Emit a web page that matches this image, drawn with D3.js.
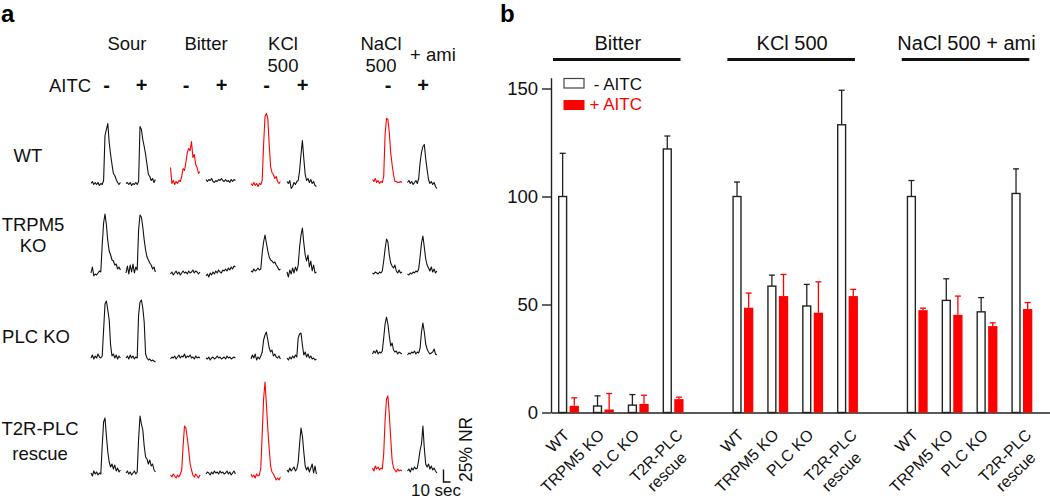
<!DOCTYPE html>
<html><head><meta charset="utf-8">
<script src="https://cdn.jsdelivr.net/npm/d3@7"></script>
<style>body{margin:0;background:#fff} svg{display:block}</style>
</head><body><svg id="c" width="1050" height="500"></svg>
<script>
// ---------------- DATA ----------------
// Panel a: nerve recording traces (% NR), sampled every 2 s
const traceStimuli = ["Sour", "Bitter", "KCl 500", "NaCl 500 + ami"];
const aitcStates = ["-", "+"];
const traceGenotypes = ["WT", "TRPM5 KO", "PLC KO", "T2R-PLC rescue"];
const traceTime = [0,2,4,6,8,10,12,14,16,18,20,22,24,26,28,30,32,34,36,38,40,42];
const tracesWT = [
  [2,6,0,4,0,4,-2,2,0,8,98,110,122,84,60,40,22,18,10,4,0,4],
  [2,4,0,4,-2,2,0,4,0,6,116,110,90,76,60,40,20,16,8,12,4,10],
  [34,2,8,0,6,2,8,6,16,32,28,44,64,72,68,86,54,60,40,34,22,26],
  [10,6,10,8,12,6,4,8,6,10,8,12,8,6,10,6,8,4,10,6,10,8],
  [2,-2,4,-2,2,-4,2,0,8,80,136,142,132,80,36,24,20,12,16,6,2,6],
  [6,2,8,-8,-4,4,0,6,8,28,60,88,52,20,8,12,4,10,2,6,-2,-4],
  [10,6,12,4,8,2,6,4,16,100,132,130,104,64,40,20,6,6,4,4,6,4],
  [4,8,2,6,0,4,8,2,12,44,64,76,80,52,30,10,2,6,0,4,-4,-8]
];
const tracesTRPM5 = [
  [4,16,-2,2,0,4,8,6,60,104,122,100,68,48,40,30,28,20,22,12,16,10],
  [4,18,2,20,6,22,4,16,10,90,120,116,96,70,50,36,30,24,20,12,16,6],
  [2,6,0,4,8,2,6,0,4,8,4,6,2,8,4,6,10,4,8,6,2,6],
  [-2,2,-4,4,0,6,2,8,4,10,6,4,10,8,12,8,14,10,16,12,18,16],
  [8,6,12,8,10,14,10,12,44,66,80,64,48,36,30,28,24,26,20,16,10,12],
  [6,-4,10,2,14,4,16,8,20,56,80,94,64,40,28,40,16,28,8,20,4,6],
  [4,2,6,4,2,6,4,8,28,52,72,66,40,24,18,14,20,8,4,10,4,6],
  [2,0,4,2,6,4,8,6,12,36,64,78,56,32,20,14,8,16,6,12,4,8]
];
const tracesPLC = [
  [4,10,2,8,4,12,6,4,8,60,112,118,100,80,30,8,12,4,10,2,8,4],
  [4,8,2,10,4,8,2,6,4,90,116,120,104,76,12,4,0,2,-2,0,-2,-4],
  [2,6,4,8,2,6,10,4,8,6,12,4,8,6,10,4,6,2,8,4,6,4],
  [4,2,6,0,4,6,2,4,8,4,6,2,4,6,2,8,4,6,2,4,6,4],
  [2,10,4,12,0,6,2,8,16,40,50,56,40,24,16,20,8,12,6,4,8,2],
  [4,0,6,2,8,4,10,6,44,52,54,30,10,16,6,12,4,8,2,4,0,2],
  [12,18,14,20,12,16,14,18,44,72,86,72,48,28,34,20,16,18,12,16,14,12],
  [10,14,12,16,14,18,12,16,14,24,56,74,56,32,22,16,12,14,16,22,12,10]
];
const tracesRescue = [
  [2,-4,6,0,4,-2,2,0,56,104,112,76,44,24,14,20,10,18,6,12,4,8],
  [2,6,0,4,-2,2,6,0,4,70,116,100,88,56,34,30,20,28,16,20,8,4],
  [-2,-6,0,-4,-8,-2,-6,0,8,56,96,92,72,48,20,8,-2,-6,0,-4,-8,-2],
  [0,4,2,-2,4,0,6,2,4,0,6,2,4,0,2,6,0,4,-2,2,6,0],
  [0,-6,-2,-8,0,-4,-2,12,80,150,184,140,90,50,16,4,0,-6,-12,-8,-12,-6],
  [8,4,12,6,10,14,6,10,24,60,92,76,44,16,8,14,4,12,20,2,16,0],
  [12,6,16,10,14,8,12,10,40,108,150,156,120,72,28,12,8,4,10,6,8,6],
  [6,10,4,12,8,14,10,12,28,48,60,96,52,20,14,20,10,16,8,12,6,2]
];
const redTraceRows = ["WT", "T2R-PLC rescue"];
const redTraceCols = [2, 4, 6];
const scaleBarNR = 25;   // % NR
const scaleBarSec = 10;  // sec

// Panel b: bar chart
const barGroups = ["Bitter", "KCl 500", "NaCl 500 + ami"];
const barGenotypes = ["WT", "TRPM5 KO", "PLC KO", "T2R-PLC rescue"];
const minusAITC    = [[100, 3, 3.4, 122], [100, 58.5, 49.3, 133.2], [100, 51.9, 46.6, 101.4]];
const minusAITCErr = [[20, 4.7, 4.9, 6], [6.7, 5.1, 10, 16], [7.4, 10, 6.6, 11.4]];
const plusAITC     = [[3.1, 1.4, 4, 6.2], [48.5, 53.9, 46.2, 53.9], [47.4, 45.2, 40, 47.9]];
const plusAITCErr  = [[3.7, 7.4, 4, 0.9], [6.8, 10, 14.3, 3.1], [0.9, 8.7, 1.5, 3]];
const yTicks = [0, 50, 100, 150];
const legendLabels = ["- AITC", "+ AITC"];

// ---------------- DRAW ----------------
const RED = "#ff0000", INK = "#111";
const svg = d3.select("#c").attr("font-family", "'Liberation Sans', Arial, Helvetica, sans-serif");

svg.append("text").attr("x", 1).attr("y", 22).attr("font-size", 24).attr("font-weight", "bold").text("a");
svg.append("text").attr("x", 500).attr("y", 22).attr("font-size", 24).attr("font-weight", "bold").text("b");

// ----- Panel a -----
const A_FS = 18.5;
const colX = [91, 126, 170.5, 206, 251, 287, 372.5, 407.5];
const rowBase = [184.5, 275, 360, 474];
const tx = d3.scaleLinear().domain([0, 42]).range([0, 29.4]);
const ty = d3.scaleLinear().domain([0, 100]).range([0, -50]);
const traceLine = d3.line().x((d, i) => tx(traceTime[i])).y(d => ty(d));
const allTraces = [tracesWT, tracesTRPM5, tracesPLC, tracesRescue];

allTraces.forEach((row, r) => row.forEach((vals, c) => {
  const red = redTraceRows.includes(traceGenotypes[r]) && redTraceCols.includes(c);
  svg.append("path")
    .attr("transform", `translate(${colX[c]},${rowBase[r]})`)
    .attr("d", traceLine(vals))
    .attr("fill", "none").attr("stroke", red ? RED : INK)
    .attr("stroke-width", 1.1).attr("stroke-linejoin", "round");
}));

// column headers
const hdr = svg.append("g").attr("font-size", A_FS).attr("fill", INK);
hdr.append("text").attr("x", 127).attr("y", 50).attr("text-anchor", "middle").text(traceStimuli[0]);
hdr.append("text").attr("x", 206).attr("y", 50).attr("text-anchor", "middle").text(traceStimuli[1]);
const kcl = traceStimuli[2].split(" ");
hdr.append("text").attr("x", 283).attr("y", 50).attr("text-anchor", "middle").text(kcl[0]);
hdr.append("text").attr("x", 283).attr("y", 71.5).attr("text-anchor", "middle").text(kcl[1]);
const nacl = traceStimuli[3].split(" ");
hdr.append("text").attr("x", 381).attr("y", 50).attr("text-anchor", "middle").text(nacl[0]);
hdr.append("text").attr("x", 381).attr("y", 71.5).attr("text-anchor", "middle").text(nacl[1]);
hdr.append("text").attr("x", 410).attr("y", 61).text(nacl.slice(2).join(" "));

hdr.append("text").attr("x", 49).attr("y", 92).text("AITC");
colX.forEach((x, c) => {
  hdr.append("text").attr("x", x + 15.5).attr("y", 92).attr("text-anchor", "middle")
    .attr("font-weight", "bold").attr("font-size", 20).text(aitcStates[c % 2]);
});

// row labels
const rowLabelLines = [["WT"], ["TRPM5", "KO"], ["PLC KO"], ["T2R-PLC", "rescue"]];
const rowLabelX = [28, 33, 36, 40];
const rowLabelY = [[161.7], [231, 252], [343], [435, 460]];
rowLabelLines.forEach((lines, r) => lines.forEach((t, k) => {
  hdr.append("text").attr("x", rowLabelX[r]).attr("y", rowLabelY[r][k]).attr("text-anchor", "middle").text(t);
}));

// scale bar
const sbX = 443.5, sbY = 482;
svg.append("path")
  .attr("d", `M${sbX},${sbY + ty(scaleBarNR)}V${sbY}H${sbX + tx(scaleBarSec)}`)
  .attr("fill", "none").attr("stroke", INK).attr("stroke-width", 1.4);
svg.append("text").attr("transform", `translate(472,${sbY}) rotate(-90)`)
  .attr("font-size", 17.5).attr("fill", INK).text(`${scaleBarNR}% NR`);
svg.append("text").attr("x", 436).attr("y", 496).attr("text-anchor", "middle")
  .attr("font-size", 17).attr("fill", INK).text(`${scaleBarSec} sec`);

// ----- Panel b -----
const y = d3.scaleLinear().domain([0, 155]).range([412.5, 77.7]);
const slotKeys = [];
barGroups.forEach((g, gi) => {
  barGenotypes.forEach(gt => slotKeys.push(g + "|" + gt));
  if (gi < barGroups.length - 1) slotKeys.push("gap" + gi);
});
const x0 = d3.scaleBand().domain(slotKeys).range([558, 1032.3]).paddingInner(0.4).paddingOuter(0);
const x1 = d3.scaleBand().domain(["-", "+"]).range([0, x0.bandwidth()]).paddingInner(0.2);

// y axis
const yAxis = svg.append("g").attr("transform", "translate(551,0)")
  .call(d3.axisLeft(y).tickValues(yTicks).tickSize(9).tickSizeOuter(0).tickPadding(4));
yAxis.select(".domain").attr("stroke", "#222").attr("stroke-width", 1.4);
yAxis.selectAll(".tick line").attr("stroke", "#222").attr("stroke-width", 1.4);
yAxis.selectAll(".tick text").attr("font-size", 18.5).attr("fill", INK)
  .attr("font-family", "'Liberation Sans', Arial, sans-serif");

// x baseline
const xLine = d3.scaleLinear().domain([0, 1]).range([551, 1050]);
svg.append("g").attr("transform", `translate(0,${y(0)})`)
  .call(d3.axisBottom(xLine).tickValues([]).tickSizeOuter(0))
  .select(".domain").attr("stroke", "#222").attr("stroke-width", 1.4);

const bars = svg.append("g");
barGroups.forEach((g, gi) => {
  barGenotypes.forEach((gt, k) => {
    const bx = x0(g + "|" + gt);
    const series = [
      {s: "-", v: minusAITC[gi][k], e: minusAITCErr[gi][k], red: false},
      {s: "+", v: plusAITC[gi][k], e: plusAITCErr[gi][k], red: true}
    ];
    series.forEach(d => {
      const xs = bx + x1(d.s), w = x1.bandwidth();
      const cx = xs + w / 2;
      const col = d.red ? RED : "#222";
      bars.append("line").attr("x1", cx).attr("x2", cx).attr("y1", y(d.v)).attr("y2", y(d.v + d.e))
        .attr("stroke", col).attr("stroke-width", 1.3);
      bars.append("line").attr("x1", cx - 3).attr("x2", cx + 3).attr("y1", y(d.v + d.e)).attr("y2", y(d.v + d.e))
        .attr("stroke", col).attr("stroke-width", 1.3);
      if (d.red) {
        bars.append("rect").attr("x", xs).attr("y", y(d.v)).attr("width", w).attr("height", y(0) - y(d.v))
          .attr("fill", RED);
      } else {
        bars.append("rect").attr("x", xs + 0.7).attr("y", y(d.v)).attr("width", w - 1.4).attr("height", y(0) - y(d.v))
          .attr("fill", "#fff").attr("stroke", "#222").attr("stroke-width", 1.4);
      }
    });
    // x label
    const parts = gt === "T2R-PLC rescue" ? ["T2R-PLC", "rescue"] : [gt];
    const cx = bx + x0.bandwidth() / 2 + 2;
    const t = svg.append("text").attr("transform", `translate(${cx},436) rotate(-45)`)
      .attr("font-size", 16).attr("fill", INK).attr("text-anchor", "end");
    if (parts.length === 1) {
      t.text(parts[0]);
    } else {
      t.append("tspan").attr("x", 6).attr("y", 6).text(parts[0]);
      t.append("tspan").attr("x", -7).attr("y", 25).text(parts[1]);
    }
  });
  // group header
  const gx0 = x0(g + "|" + barGenotypes[0]) - 5;
  const gx1 = x0(g + "|" + barGenotypes[3]) + x0.bandwidth() - 3;
  svg.append("line").attr("x1", gx0).attr("x2", gx1).attr("y1", 59.5).attr("y2", 59.5)
    .attr("stroke", INK).attr("stroke-width", 3);
  svg.append("text").attr("x", (gx0 + gx1) / 2 + 1).attr("y", 50).attr("text-anchor", "middle")
    .attr("font-size", 20).attr("fill", INK).text(g);
});

// legend
const lg = svg.append("g");
lg.append("rect").attr("x", 564).attr("y", 78.5).attr("width", 20).attr("height", 9.5)
  .attr("fill", "#fff").attr("stroke", "#444").attr("stroke-width", 1.2);
lg.append("rect").attr("x", 563.5).attr("y", 100).attr("width", 21).attr("height", 10).attr("fill", RED);
lg.append("text").attr("x", 642).attr("y", 89.5).attr("text-anchor", "end").attr("font-size", 17).attr("fill", INK).text(legendLabels[0]);
lg.append("text").attr("x", 642).attr("y", 110).attr("text-anchor", "end").attr("font-size", 17).attr("fill", RED).text(legendLabels[1]);
</script>
</body></html>
